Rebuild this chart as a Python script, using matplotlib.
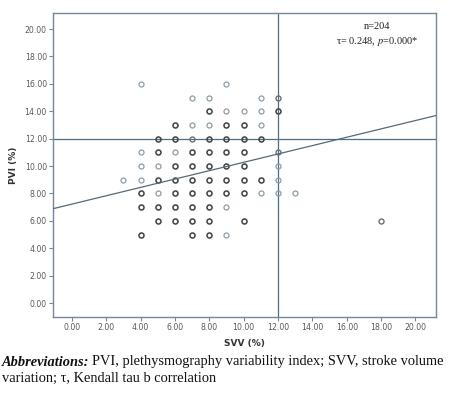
import numpy as np
import matplotlib
matplotlib.use("Agg")
import matplotlib.pyplot as plt

plt.rcParams['mathtext.fontset'] = 'stix'

# scatter points: SVV, PVI and how dark the circle is
# (1 = light, 2 = medium, 3 = dark / overlapping cases)
svv = [4, 9,
       7, 8, 11, 12,
       8, 9, 10, 11, 12,
       6, 7, 8, 9, 10, 11,
       5, 6, 7, 8, 9, 10, 11,
       4, 5, 6, 7, 8, 9, 10, 12,
       4, 5, 6, 7, 8, 9, 10, 12,
       3, 4, 5, 6, 7, 8, 9, 10, 11, 12,
       4, 5, 6, 7, 8, 9, 10, 11, 12, 13,
       4, 5, 6, 7, 8, 9,
       5, 6, 7, 8, 10, 18,
       4, 7, 8, 9]
pvi = [16, 16,
       15, 15, 15, 15,
       14, 14, 14, 14, 14,
       13, 13, 13, 13, 13, 13,
       12, 12, 12, 12, 12, 12, 12,
       11, 11, 11, 11, 11, 11, 11, 11,
       10, 10, 10, 10, 10, 10, 10, 10,
       9, 9, 9, 9, 9, 9, 9, 9, 9, 9,
       8, 8, 8, 8, 8, 8, 8, 8, 8, 8,
       7, 7, 7, 7, 7, 7,
       6, 6, 6, 6, 6, 6,
       5, 5, 5, 5]
shade = [1, 1,
         1, 1, 1, 2,
         3, 1, 1, 1, 3,
         3, 1, 1, 3, 3, 1,
         3, 3, 2, 3, 3, 3, 3,
         1, 3, 1, 3, 3, 3, 3, 2,
         1, 1, 3, 3, 3, 3, 3, 1,
         1, 1, 3, 3, 3, 3, 3, 3, 3, 1,
         3, 1, 3, 3, 3, 3, 3, 1, 1, 1,
         3, 3, 3, 3, 3, 1,
         3, 3, 3, 3, 3, 2,
         3, 3, 3, 1]

fit_intercept = 7.22
fit_slope = 0.305
cut_svv = 12
cut_pvi = 12
ticks = np.arange(0, 21, 2)

shade_colors = {1: '#8e9da8', 2: '#6b7075', 3: '#45484b'}
shade_widths = {1: 0.9, 2: 1.0, 3: 1.15}

fig = plt.figure(figsize=(4.55, 3.93), dpi=100)
ax = fig.add_axes([53 / 455, 1 - 317 / 393, 383 / 455, 304 / 393])

frame_col = '#74889a'
for s in ax.spines.values():
    s.set_color(frame_col)
    s.set_linewidth(1.0)

for lev in (1, 2, 3):
    xs = [x for x, k in zip(svv, shade) if k == lev]
    ys = [y for y, k in zip(pvi, shade) if k == lev]
    ax.plot(xs, ys, 'o', ms=3.6, mfc='none', mec=shade_colors[lev],
            mew=shade_widths[lev], zorder=3)

xlim = (-1.1, 21.2)
ax.set_xlim(*xlim)
ax.set_ylim(-1.02, 21.17)

xx = np.array(xlim)
ax.plot(xx, fit_intercept + fit_slope * xx, color='#556a78', lw=0.9, zorder=4)
ax.axhline(cut_pvi, color='#4d6f86', lw=0.9, zorder=2)
ax.axvline(cut_svv, color='#4d6f86', lw=0.9, zorder=2)

ax.set_xticks(ticks)
ax.set_yticks(ticks)
ax.set_xticklabels(['%.2f' % t for t in ticks])
ax.set_yticklabels(['%.2f' % t for t in ticks])
ax.tick_params(length=3, width=0.8, color=frame_col, labelsize=5.6,
               labelcolor='#555a5e', pad=1.5)

ax.set_xlabel('SVV (%)', fontsize=6.5, fontweight='bold', color='#333333', labelpad=5)
ax.set_ylabel('PVI (%)', fontsize=6.5, fontweight='bold', color='#333333', labelpad=5)

ax.text(0.845, 0.955, 'n=204', transform=ax.transAxes, ha='center', va='center',
        fontsize=7.5, family='Liberation Serif', color='#222222')
ax.text(0.845, 0.905, r'τ= 0.248, $\it{p}$=0.000*', transform=ax.transAxes,
        ha='center', va='center', fontsize=7.5, family='Liberation Serif',
        color='#222222')

# caption under the chart
cap_size = 10.4
t1 = fig.text(0.004, 1 - 362 / 393, 'Abbreviations:', fontsize=cap_size,
              family='Liberation Serif', fontweight='bold', style='italic',
              va='center', color='#111111')
r = fig.canvas.get_renderer()
bb = t1.get_window_extent(renderer=r)
fig.text((bb.x1 + 3) / fig.bbox.width, 1 - 362 / 393,
         'PVI, plethysmography variability index; SVV, stroke volume',
         fontsize=cap_size, family='Liberation Serif', va='center', color='#111111')
fig.text(0.004, 1 - 378 / 393, 'variation; τ, Kendall tau b correlation',
         fontsize=cap_size, family='Liberation Serif', va='center', color='#111111')

fig.savefig('out.png', dpi=100)
